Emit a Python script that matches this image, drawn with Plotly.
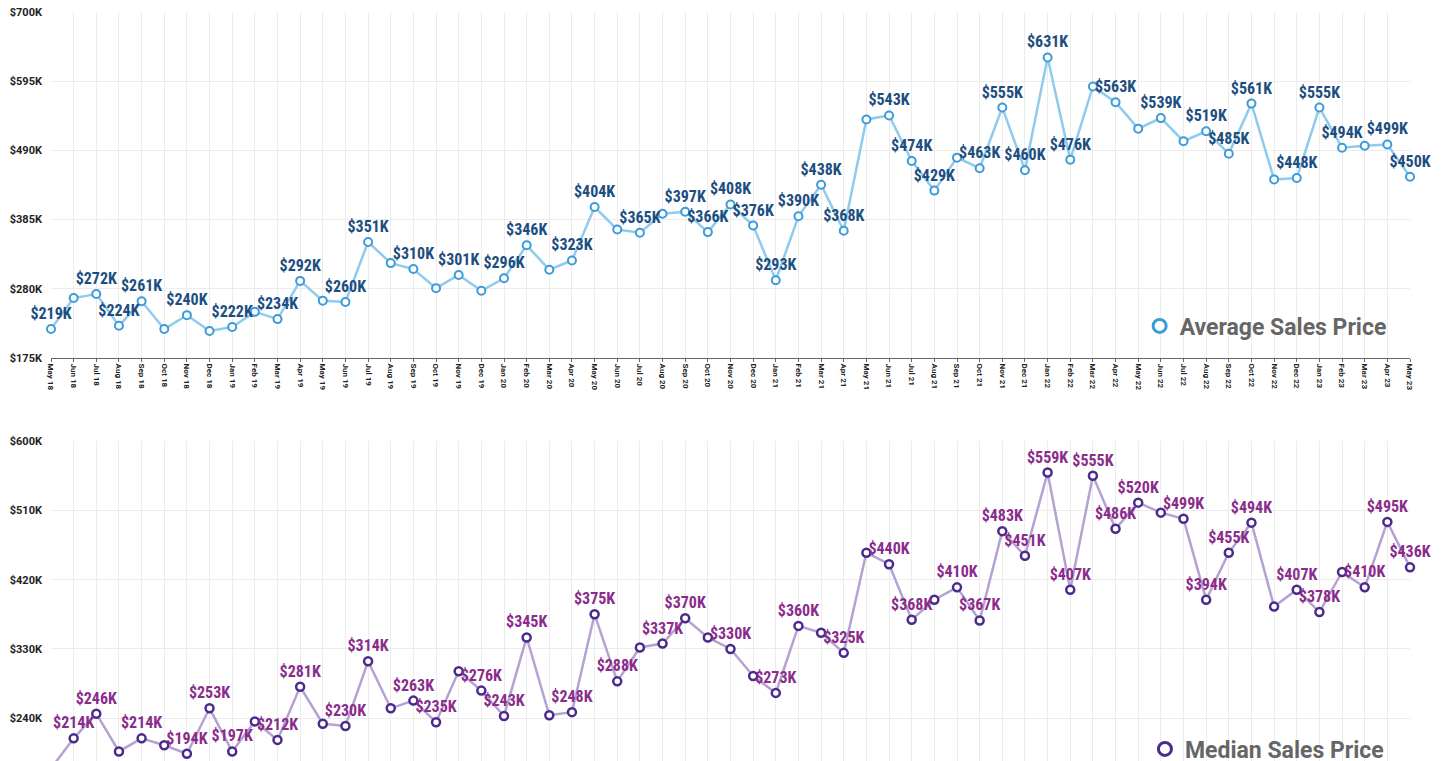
import plotly.graph_objects as go

months = ["May 18","Jun 18","Jul 18","Aug 18","Sep 18","Oct 18","Nov 18","Dec 18",
          "Jan 19","Feb 19","Mar 19","Apr 19","May 19","Jun 19","Jul 19","Aug 19","Sep 19","Oct 19","Nov 19","Dec 19",
          "Jan 20","Feb 20","Mar 20","Apr 20","May 20","Jun 20","Jul 20","Aug 20","Sep 20","Oct 20","Nov 20","Dec 20",
          "Jan 21","Feb 21","Mar 21","Apr 21","May 21","Jun 21","Jul 21","Aug 21","Sep 21","Oct 21","Nov 21","Dec 21",
          "Jan 22","Feb 22","Mar 22","Apr 22","May 22","Jun 22","Jul 22","Aug 22","Sep 22","Oct 22","Nov 22","Dec 22",
          "Jan 23","Feb 23","Mar 23","Apr 23","May 23"]

# values in $K
avg_price = [219,266,272,224,261,219,240,216,
             222,245,234,292,262,260,351,319,310,281,301,277,
             296,346,309,323,404,370,365,394,397,366,408,376,
             293,390,438,368,537,543,474,429,479,463,555,460,
             631,476,587,563,523,539,504,519,485,561,446,448,
             555,494,497,499,450]
avg_labeled = [1,0,1,1,1,0,1,0,
               1,0,1,1,0,1,1,0,1,0,1,0,
               1,1,0,1,1,0,1,0,1,1,1,1,
               1,1,1,1,0,1,1,1,0,1,1,1,
               1,1,0,1,0,1,0,1,1,1,0,1,
               1,1,0,1,1]

med_price = [175,214,246,197,214,205,194,253,
             197,236,212,281,233,230,314,253,263,235,301,276,
             243,345,244,248,375,288,332,337,370,345,330,295,
             273,360,351,325,455,440,368,394,410,367,483,451,
             559,407,555,486,520,507,499,394,455,494,385,407,
             378,430,410,495,436]
med_labeled = [1,1,1,0,1,0,1,1,
               1,0,1,1,0,1,1,0,1,1,0,1,
               1,1,0,1,1,1,0,1,1,0,1,0,
               1,1,0,1,0,1,1,0,1,1,1,1,
               1,1,1,1,1,0,1,1,1,1,0,1,
               1,0,1,1,1]

avg_y_ticks = [175, 280, 385, 490, 595, 700]
med_y_ticks = [240, 330, 420, 510, 600]

avg_text = [f"${v}K" if l else "" for v, l in zip(avg_price, avg_labeled)]
med_text = [f"${v}K" if l else "" for v, l in zip(med_price, med_labeled)]
avg_vals = [v * 1000 for v in avg_price]
med_vals = [v * 1000 for v in med_price]

LABEL_FONT = "Liberation Sans Narrow, Roboto Condensed, Roboto, sans-serif"
AVG_LINE, AVG_MARK, AVG_TXT = "#8FCBEE", "#3C9BDA", "#1D4E80"
MED_LINE, MED_MARK, MED_TXT = "#B5A2D2", "#4A2A8E", "#8A2C8C"

fig = go.Figure()
fig.add_trace(go.Scatter(
    x=months, y=avg_vals, mode="lines+markers+text", name="Average Sales Price",
    text=avg_text, textposition="top center",
    textfont=dict(family=LABEL_FONT, size=16, color=AVG_TXT, weight="bold"),
    line=dict(color=AVG_LINE, width=2.5),
    marker=dict(symbol="circle", size=8, color="white", line=dict(color=AVG_MARK, width=2)),
    cliponaxis=False, xaxis="x", yaxis="y", showlegend=False, hoverinfo="x+y"))
fig.add_trace(go.Scatter(
    x=months, y=med_vals, mode="lines+markers+text", name="Median Sales Price",
    text=med_text, textposition="top center",
    textfont=dict(family=LABEL_FONT, size=16, color=MED_TXT, weight="bold"),
    line=dict(color=MED_LINE, width=2.5),
    marker=dict(symbol="circle", size=8, color="white", line=dict(color=MED_MARK, width=2.5)),
    cliponaxis=False, xaxis="x2", yaxis="y2", showlegend=False, hoverinfo="x+y"))

# legend entries
fig.add_trace(go.Scatter(
    x=[None], y=[None], mode="markers", name="Average Sales Price",
    marker=dict(symbol="circle", size=13, color="white", line=dict(color=AVG_MARK, width=3)),
    xaxis="x", yaxis="y", legend="legend", showlegend=True))
fig.add_trace(go.Scatter(
    x=[None], y=[None], mode="markers", name="Median Sales Price",
    marker=dict(symbol="circle", size=13, color="white", line=dict(color=MED_MARK, width=3)),
    xaxis="x2", yaxis="y2", legend="legend2", showlegend=True))

OFF = 8  # page body margin
H = 761 - OFF
t, b = 12 - OFF, 0
ph = H - t - b
def py(page_pix):
    return (H - b - (page_pix - OFF)) / ph

grid = "#ECECEC"
legend_font = dict(family="Roboto, sans-serif", size=23, color="#666666", weight="bold")
fig.update_layout(
    width=1446 - OFF, height=H,
    margin=dict(l=51 - OFF, r=36, t=t, b=b, autoexpand=False),
    paper_bgcolor="white", plot_bgcolor="white",
    font=dict(family="Roboto, sans-serif"),
    xaxis=dict(domain=[0, 1], anchor="y", type="category", range=[0, 60],
               showgrid=True, gridcolor=grid, gridwidth=1, automargin=False,
               tickangle=90, tickfont=dict(size=8, color="#222", weight="bold"),
               showline=True, linecolor="#666", linewidth=1,
               ticks="outside", ticklen=3, tickcolor="#666", zeroline=False),
    yaxis=dict(domain=[py(358), 1.0], anchor="x", range=[175000, 700000],
               tickvals=[v * 1000 for v in avg_y_ticks],
               ticktext=[f"${v}K" for v in avg_y_ticks],
               tickfont=dict(size=11, color="#222", weight="bold"),
               showgrid=True, gridcolor=grid, gridwidth=1, zeroline=False,
               ticks="", ticklabelstandoff=8, automargin=False,
               ticklabeloverflow="allow"),
    xaxis2=dict(domain=[0, 1], anchor="y2", type="category", range=[0, 60],
                showgrid=True, gridcolor=grid, gridwidth=1, automargin=False,
                showticklabels=False, ticks="", zeroline=False, showline=False),
    yaxis2=dict(domain=[0, py(441)], anchor="x2", range=[184600, 600000],
                tickvals=[v * 1000 for v in med_y_ticks],
                ticktext=[f"${v}K" for v in med_y_ticks],
                tickfont=dict(size=11, color="#222", weight="bold"),
                showgrid=True, gridcolor=grid, gridwidth=1, zeroline=False,
                ticks="", ticklabelstandoff=8, automargin=False,
                ticklabeloverflow="allow"),
    legend=dict(x=0.9865, xanchor="right", y=py(326), yanchor="middle",
                bgcolor="rgba(0,0,0,0)", font=legend_font, itemsizing="trace"),
    legend2=dict(x=0.9845, xanchor="right", y=py(749), yanchor="middle",
                 bgcolor="rgba(0,0,0,0)", font=legend_font, itemsizing="trace"),
    showlegend=True,
)

fig.write_html("out.html")
